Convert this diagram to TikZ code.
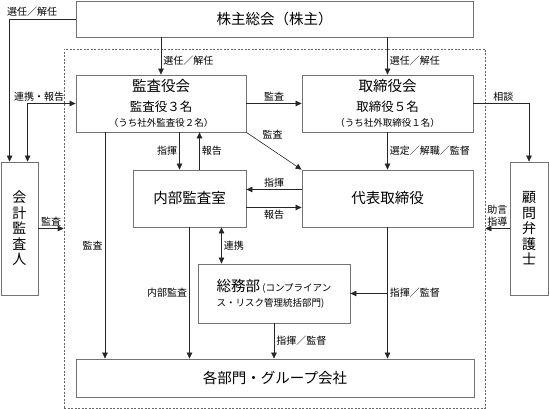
\documentclass[tikz,border=0pt]{standalone}
\usepackage{fontspec}
\setmainfont{Noto Sans CJK JP}
\usetikzlibrary{arrows.meta}
\usetikzlibrary{positioning}
\newcommand\orgnode[5][]{%
  \node[box,#1,minimum width=#2pt,minimum height=#3pt] (#4) {#5};
}

\begin{document}
\begin{tikzpicture}[
x=1pt, y=-1pt,
>={Triangle[length=6pt,width=5.5pt]},
box/.style={
  draw=black!55,
  line width=0.8pt,
  fill=white,
  align=center,
  inner sep=1pt,
  font=\fontsize{14.5}{17}\selectfont},
vbox/.style={font=\fontsize{14}{15.5}\selectfont},
lbl/.style={font=\fontsize{10}{11.5}\selectfont, inner sep=2pt},
link/.style={draw=black!85, line width=0.6pt}
]
\useasboundingbox (0,0) rectangle (549,409);
\node[draw=black!60, dash pattern=on 2pt off 1.5pt, line width=0.6pt,
  minimum width=421pt, minimum height=359pt, inner sep=0pt] (grp) at (274.5,228.5) {};
\orgnode[at={(274.5,19)}]{397}{36}{soukai}{株主総会（株主）}
\orgnode[at={(161,103.5)}]{170}{57}{kansa}{監査役会\\[3pt]{\fontsize{12.5}{14}\selectfont 監査役３名}\\[-2pt]{\fontsize{9.5}{11}\selectfont （うち社外監査役２名）}}
\orgnode[at={(387.5,103.5)}]{171}{57}{tori}{取締役会\\[3pt]{\fontsize{12.5}{14}\selectfont 取締役５名}\\[-2pt]{\fontsize{9.5}{11}\selectfont （うち社外取締役１名）}}
\orgnode[vbox,at={(19.5,228.5)}]{37}{133}{kaikei}{会\\計\\監\\査\\人}
\orgnode[vbox,at={(529,228.5)}]{38}{133}{komon}{顧\\問\\弁\\護\\士}
\orgnode[at={(189.5,198.5)}]{113}{57}{naibu}{内部監査室}
\orgnode[at={(387.5,198.5)}]{171}{57}{daihyo}{代表取締役}
\orgnode[align=left,at={(274,293.5)}]{152}{59}{soumu}{総務部{\fontsize{9.5}{11}\selectfont\ (コンプライアン}\\[-2pt]{\fontsize{9.5}{11}\selectfont ス・リスク管理統括部門)}}
\orgnode[at={(275,378)}]{398}{38}{kakubu}{各部門・グループ会社}

% from the shareholders
\draw[link,->] (soukai.west) -| node[lbl,pos=0.33,above]{選任／解任} ([xshift=9pt]kaikei.north west);
\draw[link,->] (soukai.south -| kansa.north) -- node[lbl,pos=0.63,right]{選任／解任} (kansa.north);
\draw[link,->] (soukai.south -| tori.north) -- node[lbl,pos=0.63,right]{選任／解任} (tori.north);
\draw[link,<->] ([xshift=27pt]kaikei.north west) |- node[lbl,pos=0.62,above]{連携・報告} (kansa.west);

% audit board
\draw[link,->] (kansa.east) -- node[lbl,above]{監査} (tori.west);
\draw[link,->] (kansa.south east) -- node[lbl,pos=0.25,above right]{監査} (daihyo.north west);
\draw[link,->] ([xshift=-10pt]naibu.north |- kansa.south) -- node[lbl,left]{指揮} ([xshift=-10pt]naibu.north);
\draw[link,->] ([xshift=10pt]naibu.north) -- node[lbl,right]{報告} ([xshift=10pt]naibu.north |- kansa.south);
\draw[link,->] ([xshift=-56pt]kansa.south) -- node[lbl,left]{監査} ([xshift=-56pt]kansa.south |- kakubu.north);

% board and representative director
\draw[link,->] (tori.south) -- node[lbl,right]{選定／解職／監督} (daihyo.north);
\draw[link,->] ([yshift=9pt]daihyo.west) -- node[lbl,above]{指揮} ([yshift=9pt]daihyo.west -| naibu.east);
\draw[link,->] ([yshift=-9pt]naibu.east) -- node[lbl,below]{報告} ([yshift=-9pt]naibu.east -| daihyo.west);
\draw[link,->] (tori.east) -| node[lbl,pos=0.27,above]{相談} (komon.north);
\draw[link,->] (komon.west) -- node[lbl,above,align=center]{助言\\指導} (komon.west -| grp.east);
\draw[link,->] (kaikei.east) -- node[lbl,above]{監査} (kaikei.east -| grp.west);

% down to the divisions
\draw[link,->] (naibu.south) -- node[lbl,left]{内部監査} (naibu.south |- kakubu.north);
\draw[link,<->] ([xshift=32pt]naibu.south) -- node[lbl,right]{連携} ([xshift=32pt]naibu.south |- soumu.north);
\draw[link,->] (daihyo.south) -- node[lbl,right]{指揮／監督} (daihyo.south |- kakubu.north);
\draw[link,->] (daihyo.south |- soumu.east) -- (soumu.east);
\draw[link,->] (soumu.south) -- node[lbl,right]{指揮／監督} (soumu.south |- kakubu.north);
\end{tikzpicture}
\end{document}
